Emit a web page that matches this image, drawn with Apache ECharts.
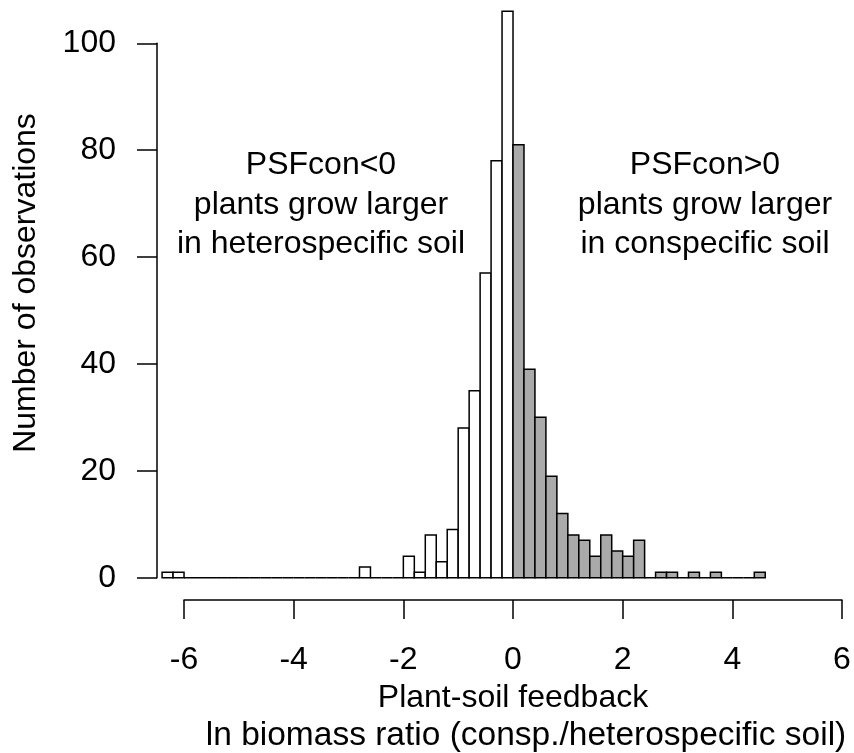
<!DOCTYPE html>
<html>
<head>
<meta charset="utf-8">
<script src="https://cdn.jsdelivr.net/npm/echarts@6/dist/echarts.min.js"></script>
<style>html,body{margin:0;padding:0;background:#fff;}#c{width:854px;height:753px;}</style>
</head>
<body>
<div id="c"></div>
<script>
// Histogram bins (width 0.2) starting at -6.4
var binStart = -6.4;
var binWidth = 0.2;
var counts = [
  1, 1,
  0, 0, 0, 0, 0, 0, 0, 0, 0, 0, 0, 0, 0, 0, 0, 0,
  2, 0, 0, 0,
  4, 1, 8, 3, 9, 28, 35, 57, 78, 106,
  81, 39, 30, 19, 12, 8, 7, 4, 8, 5, 4, 7,
  0, 1, 1, 0, 1, 0, 1, 0, 0, 0, 1
];
var xTicks = [-6, -4, -2, 0, 2, 4, 6];
var yTicks = [0, 20, 40, 60, 80, 100];
var xTitle = ['Plant-soil feedback', 'ln biomass ratio (consp./heterospecific soil)'];
var yTitle = 'Number of observations';
var leftNote = ['PSFcon<0', 'plants grow larger', 'in heterospecific soil'];
var rightNote = ['PSFcon>0', 'plants grow larger', 'in conspecific soil'];

var binData = counts.map(function (c, i) {
  var a = Math.round((binStart + i * binWidth) * 10) / 10;
  var b = Math.round((binStart + (i + 1) * binWidth) * 10) / 10;
  return [a, b, c];
});

var FONT = 'Liberation Sans, Arial, sans-serif';
var chart = echarts.init(document.getElementById('c'), null, {renderer: 'canvas'});
chart.setOption({
  backgroundColor: '#fff',
  animation: false,
  grid: [
    {left: 162.1, right: 12, top: 11.2, bottom: 175.3},
    {left: 184, right: 12, top: 43.3, bottom: 175.3}
  ],
  xAxis: [
    {gridIndex: 0, type: 'value', min: -6.4, max: 6, show: false},
    {gridIndex: 1, type: 'value', min: xTicks[0], max: xTicks[xTicks.length - 1], interval: 2,
     position: 'bottom', offset: 22.3,
     axisLine: {show: true, onZero: false, lineStyle: {color: '#000', width: 1.5}},
     axisTick: {show: true, length: 19, inside: false, lineStyle: {color: '#000', width: 1.5}},
     axisLabel: {show: true, color: '#000', fontSize: 32, fontFamily: FONT, margin: 44,
       formatter: function (v) { return String(v); }},
     splitLine: {show: false}}
  ],
  yAxis: [
    {gridIndex: 0, type: 'value', min: 0, max: 106, show: false},
    {gridIndex: 1, type: 'value', min: yTicks[0], max: yTicks[yTicks.length - 1], interval: 20,
     position: 'left', offset: 27,
     axisLine: {show: true, onZero: false, lineStyle: {color: '#000', width: 1.5}},
     axisTick: {show: true, length: 20, inside: false, lineStyle: {color: '#000', width: 1.5}},
     axisLabel: {show: true, color: '#000', fontSize: 32, fontFamily: FONT, margin: 41},
     splitLine: {show: false}}
  ],
  series: [{
    type: 'custom',
    xAxisIndex: 0,
    yAxisIndex: 0,
    data: binData,
    clip: false,
    renderItem: function (params, api) {
      var x0 = api.value(0), x1 = api.value(1), c = api.value(2);
      var p0 = api.coord([x0, 0]);
      var p1 = api.coord([x1, c]);
      return {
        type: 'rect',
        shape: {x: p0[0], y: p1[1], width: p1[0] - p0[0], height: p0[1] - p1[1]},
        style: {fill: x0 < 0 ? '#ffffff' : '#aaaaaa', stroke: '#000', lineWidth: 1.5}
      };
    }
  }],
  graphic: [
    {type: 'text', x: 26, y: 283, rotation: Math.PI / 2,
     style: {text: yTitle, font: '32px ' + FONT, fill: '#000', align: 'center', verticalAlign: 'middle'}},
    {type: 'text', x: 513, y: 698,
     style: {text: xTitle[0], font: '32px ' + FONT, fill: '#000', align: 'center', verticalAlign: 'middle'}},
    {type: 'text', x: 526, y: 736,
     style: {text: xTitle[1], font: '33.5px ' + FONT, fill: '#000', align: 'center', verticalAlign: 'middle'}},
    {type: 'text', x: 321, y: 205,
     style: {text: leftNote.join('\n'), font: '32px ' + FONT, lineHeight: 39.5, fill: '#000', align: 'center', verticalAlign: 'middle'}},
    {type: 'text', x: 705, y: 205,
     style: {text: rightNote.join('\n'), font: '32px ' + FONT, lineHeight: 39.5, fill: '#000', align: 'center', verticalAlign: 'middle'}}
  ]
});
</script>
</body>
</html>
